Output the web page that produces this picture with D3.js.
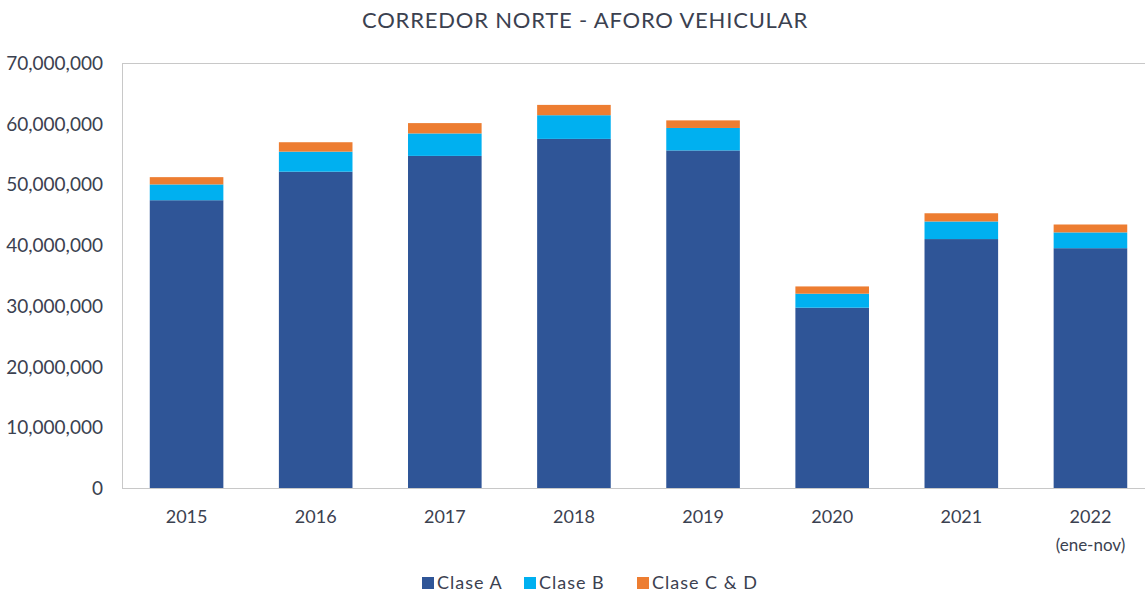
<!DOCTYPE html>
<html>
<head>
  <meta charset="utf-8">
  <title>Corredor Norte - Aforo Vehicular</title>
  <script src="https://d3js.org/d3.v7.min.js"></script>
  <style>
    body { margin: 0; background: #fff; }
    text { font-family: Lato, "Noto Sans", sans-serif; fill: #3b4150; }
  </style>
</head>
<body>
<script>
// data (millions of vehicles)
var years = ["2015", "2016", "2017", "2018", "2019", "2020", "2021", "2022"];
var yearNotes = ["", "", "", "", "", "", "", "(ene-nov)"];
var claseA = [47.4, 52.1, 54.7, 57.5, 55.6, 29.7, 41.0, 39.5];
var claseB = [2.6, 3.3, 3.7, 3.9, 3.7, 2.3, 2.9, 2.6];
var claseCD = [1.2, 1.55, 1.7, 1.7, 1.25, 1.2, 1.35, 1.3];
var seriesNames = ["Clase A", "Clase B", "Clase C & D"];
var seriesColors = ["#2f5597", "#00b0f0", "#ed7d31"];
var yTicks = [0, 10e6, 20e6, 30e6, 40e6, 50e6, 60e6, 70e6];

var width = 1145, height = 594;
var plotLeft = 122, plotTop = 63, plotBottom = 488, plotRight = 1155;

var svg = d3.select("body").append("svg")
  .attr("width", width).attr("height", height);

var rows = years.map(function(yr, i) {
  return { year: yr, a: claseA[i] * 1e6, b: claseB[i] * 1e6, cd: claseCD[i] * 1e6 };
});

var x = d3.scaleBand().domain(years).range([plotLeft, plotRight]).paddingInner(0.43).paddingOuter(0.215);
var y = d3.scaleLinear().domain([0, 70e6]).range([plotBottom, plotTop]);

var layers = d3.stack().keys(["a", "b", "cd"])(rows);

// frame
svg.append("line").attr("x1", plotLeft).attr("x2", width).attr("y1", plotTop + 0.5).attr("y2", plotTop + 0.5)
  .attr("stroke", "#c8c8c8");
svg.append("line").attr("x1", plotLeft + 0.5).attr("x2", plotLeft + 0.5).attr("y1", plotTop).attr("y2", plotBottom)
  .attr("stroke", "#c8c8c8");

svg.append("g").selectAll("g")
  .data(layers)
  .enter().append("g")
  .attr("fill", function(d, i) { return seriesColors[i]; })
  .selectAll("rect")
  .data(function(d) { return d; })
  .enter().append("rect")
  .attr("x", function(d) { return x(d.data.year); })
  .attr("width", x.bandwidth())
  .attr("y", function(d) { return y(d[1]); })
  .attr("height", function(d) { return y(d[0]) - y(d[1]); });

svg.append("line").attr("x1", plotLeft).attr("x2", width).attr("y1", plotBottom + 0.5).attr("y2", plotBottom + 0.5)
  .attr("stroke", "#c8c8c8");

// y axis
var yAxis = svg.append("g")
  .attr("transform", "translate(" + (plotLeft - 19) + ",0)")
  .call(d3.axisLeft(y).tickValues(yTicks).tickSize(0).tickFormat(d3.format(",")));
yAxis.select(".domain").remove();
yAxis.selectAll("text").attr("font-size", 19).attr("x", 0).attr("dy", "0.34em")
  .style("font-family", "Lato, 'Noto Sans', sans-serif").attr("fill", "#3b4150");

// x axis
var xAxis = svg.append("g")
  .attr("transform", "translate(0," + plotBottom + ")")
  .call(d3.axisBottom(x).tickSize(0));
xAxis.select(".domain").remove();
xAxis.selectAll("text").attr("font-size", 18).attr("y", 35).attr("dy", "0")
  .style("font-family", "Lato, 'Noto Sans', sans-serif").attr("fill", "#3b4150");
xAxis.selectAll(".tick").append("text")
  .attr("y", 63).attr("text-anchor", "middle").attr("font-size", 17)
  .style("font-family", "Lato, 'Noto Sans', sans-serif").attr("fill", "#3b4150")
  .text(function(d) { return yearNotes[years.indexOf(d)]; });

// title
svg.append("text").attr("x", 585).attr("y", 28).attr("text-anchor", "middle")
  .attr("font-size", 22).attr("letter-spacing", "0.8px")
  .text("CORREDOR NORTE - AFORO VEHICULAR");

// legend
var legendX = [422, 524, 637];
var legend = svg.append("g").selectAll("g")
  .data(seriesNames)
  .enter().append("g")
  .attr("transform", function(d, i) { return "translate(" + legendX[i] + ",583)"; });
legend.append("rect").attr("x", 0).attr("y", -6).attr("width", 12).attr("height", 12)
  .attr("fill", function(d, i) { return seriesColors[i]; });
legend.append("text").attr("x", 15).attr("dy", "0.35em").attr("font-size", 18).attr("letter-spacing", "1px")
  .text(function(d) { return d; });
</script>
</body>
</html>
